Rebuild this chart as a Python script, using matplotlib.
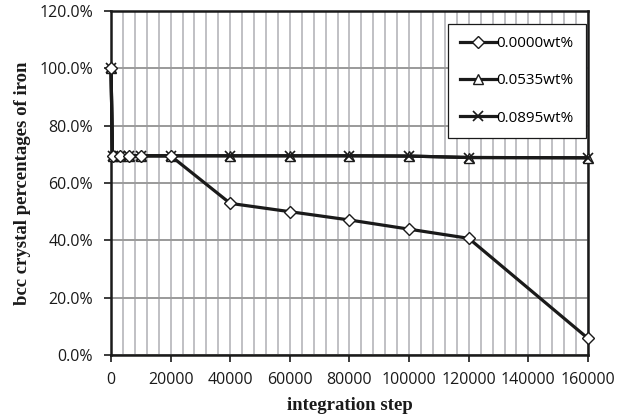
import matplotlib
matplotlib.use("Agg")
import matplotlib.pyplot as plt
from matplotlib.ticker import MultipleLocator, FuncFormatter

steps = [0, 500, 3000, 6000, 10000, 20000, 40000, 60000, 80000, 100000, 120000, 160000]
s0000 = [100.0, 69.5, 69.5, 69.5, 69.5, 69.5, 52.9, 50.0, 47.1, 43.9, 40.7, 5.8]
s0535 = [100.0, 69.5, 69.5, 69.5, 69.5, 69.5, 69.5, 69.5, 69.5, 69.4, 68.9, 68.8]
s0895 = [100.0, 69.5, 69.5, 69.5, 69.5, 69.5, 69.5, 69.5, 69.5, 69.4, 68.9, 68.8]
labels = ["0.0000wt%", "0.0535wt%", "0.0895wt%"]

fig = plt.figure(figsize=(6.38, 4.19), dpi=100)
ax = fig.add_axes([0.174, 0.1527, 0.7476, 0.821])

tickfont = "Open Sans"
ax.plot(steps, s0000, color="#1a1a1a", lw=2.3, marker="D", ms=6, mfc="white",
        mec="#1a1a1a", mew=1.0, label=labels[0], zorder=5, clip_on=False)
ax.plot(steps, s0535, color="#1a1a1a", lw=2.3, marker="^", ms=7.5, mfc="white",
        mec="#1a1a1a", mew=1.0, label=labels[1], zorder=4, clip_on=False)
ax.plot(steps, s0895, color="#1a1a1a", lw=2.3, marker="x", ms=7.5,
        mec="#1a1a1a", mew=1.2, label=labels[2], zorder=4, clip_on=False)

ax.set_xlim(0, 160000)
ax.set_ylim(0, 120)
ax.xaxis.set_major_locator(MultipleLocator(20000))
ax.xaxis.set_minor_locator(MultipleLocator(4000))
ax.yaxis.set_major_locator(MultipleLocator(20))
ax.yaxis.set_major_formatter(FuncFormatter(lambda v, p: f"{v:.1f}%"))
ax.xaxis.set_major_formatter(FuncFormatter(lambda v, p: f"{int(v)}"))

ax.grid(which="minor", axis="x", color="#c0c0c4", lw=1.4, zorder=0)
ax.grid(which="major", axis="x", color="#c0c0c4", lw=1.4, zorder=0)
ax.grid(which="major", axis="y", color="#9a9a9a", lw=1.4, zorder=0)
ax.set_axisbelow(True)

for sp in ax.spines.values():
    sp.set_color("#1a1a1a")
    sp.set_linewidth(1.8)

ax.tick_params(axis="both", which="major", direction="out", length=5, width=1.2,
               color="#1a1a1a", labelsize=11.5, labelcolor="#1a1a1a")
ax.tick_params(axis="x", which="major", pad=7)
ax.tick_params(axis="y", which="major", pad=8)
ax.tick_params(axis="x", which="minor", length=0)
for lab in ax.get_xticklabels() + ax.get_yticklabels():
    lab.set_fontfamily(tickfont)

ax.set_xlabel("integration step", fontfamily="Liberation Serif", fontweight="bold",
              fontsize=13.5, color="#1a1a1a", labelpad=7)
ax.set_ylabel("bcc crystal percentages of iron", fontfamily="Liberation Serif",
              fontweight="bold", fontsize=13.5, color="#1a1a1a", labelpad=6)

leg = ax.legend(loc="upper right", bbox_to_anchor=(0.996, 0.962), frameon=True,
                fancybox=False, edgecolor="#1a1a1a", framealpha=1,
                handlelength=2.4, labelspacing=1.45, borderpad=0.8,
                handletextpad=0.0, borderaxespad=0.0,
                prop={"family": tickfont, "size": 11})
leg.get_frame().set_linewidth(0.9)

fig.savefig("out.png", dpi=100)
